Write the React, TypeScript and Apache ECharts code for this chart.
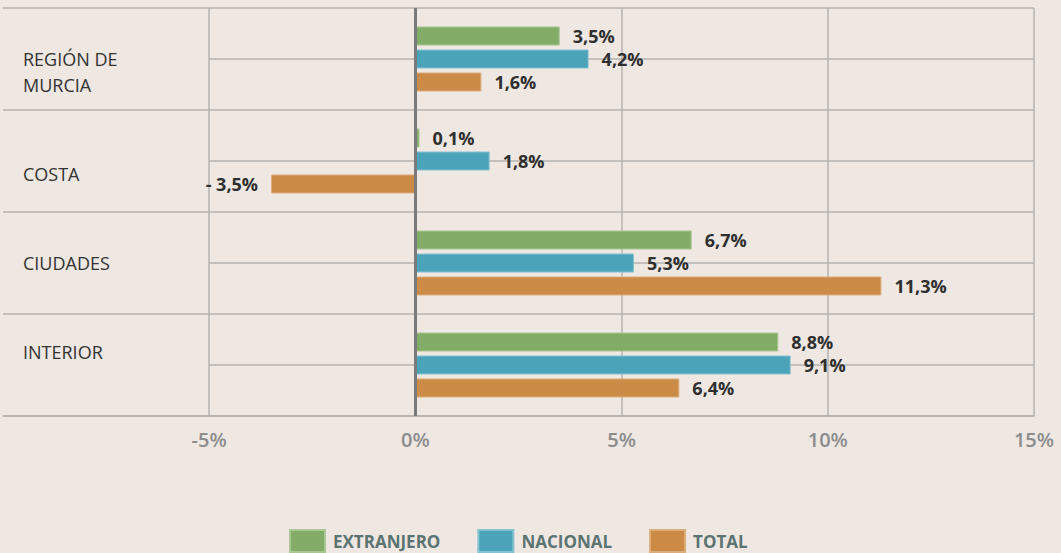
import React, { useEffect, useRef } from "react";
import * as echarts from "echarts";

const categories = ["REGIÓN DE\nMURCIA", "COSTA", "CIUDADES", "INTERIOR"];
const extranjero = [3.5, 0.1, 6.7, 8.8];
const nacional = [4.2, 1.8, 5.3, 9.1];
const total = [1.6, -3.5, 11.3, 6.4];
const seriesNames = ["EXTRANJERO", "NACIONAL", "TOTAL"];
const xTicks = [-10, -5, 0, 5, 10, 15];
// vertical nudge of each category label, in half-lines (+ = down)
const labelShift = [1, 1, 0, -1];

const FONT = "'Open Sans', sans-serif";
const GRID = "#b5b3b0";

const fmt = (v: number) =>
  (v < 0 ? "- " : "") + Math.abs(v).toFixed(1).replace(".", ",") + "%";

export default function App() {
  const ref = useRef<HTMLDivElement>(null);
  useEffect(() => {
    document.body.style.margin = "0";
    const chart = echarts.init(ref.current!, null, { renderer: "svg" });
    const barLabel = {
      show: true,
      position: "right",
      distance: 13,
      formatter: (p: any) => fmt(p.value),
      color: "#2f2f2f",
      fontFamily: FONT,
      fontWeight: "bold",
      fontSize: 18,
    };
    const mkData = (arr: number[]) =>
      arr.map((v) => (v < 0 ? { value: v, label: { position: "left" } } : v));
    chart.setOption({
      animation: false,
      backgroundColor: "#EEE7E2",
      grid: { left: 1, right: 27, top: 8, bottom: 137, containLabel: false },
      legend: {
        data: seriesNames,
        top: 529,
        left: 289,
        padding: 0,
        icon: "rect",
        itemWidth: 35,
        itemHeight: 22,
        itemGap: 37,
        textStyle: {
          color: "#5B7472",
          fontFamily: FONT,
          fontWeight: "bold",
          fontSize: 17,
          padding: [0, 0, 0, 3],
        },
      },
      xAxis: {
        type: "value",
        min: xTicks[0],
        max: xTicks[xTicks.length - 1],
        interval: 5,
        axisLine: { show: true, onZero: false, lineStyle: { color: GRID, width: 1.5 } },
        axisTick: { show: false },
        axisLabel: {
          margin: 13,
          color: "#8c8c8c",
          fontFamily: FONT,
          fontWeight: 600,
          fontSize: 20,
          formatter: (v: number) => (v === xTicks[0] ? "" : v + "%"),
        },
        splitLine: {
          show: true,
          lineStyle: {
            color: ["rgba(0,0,0,0)", GRID, GRID, GRID, GRID, GRID],
            width: 1.5,
          },
        },
      },
      yAxis: {
        type: "category",
        inverse: true,
        data: categories,
        axisLine: { show: false },
        axisTick: { show: false },
        axisLabel: {
          inside: true,
          margin: 20,
          color: "#333333",
          fontFamily: FONT,
          fontSize: 18,
          lineHeight: 26,
          align: "left",
          formatter: (v: string, i: number) => {
            const s = labelShift[i] || 0;
            return s > 0 ? "\n" + v : s < 0 ? v + "\n" : v;
          },
        },
        splitLine: { show: true, interval: 0, lineStyle: { color: GRID, width: 1.5 } },
      },
      series: [
        {
          name: seriesNames[0],
          type: "bar",
          data: mkData(extranjero),
          barWidth: 19,
          barGap: "21%",
          itemStyle: { color: "#84AC69", borderColor: "#a9c693", borderWidth: 1 },
          label: barLabel,
        },
        {
          name: seriesNames[1],
          type: "bar",
          data: mkData(nacional),
          barWidth: 19,
          barGap: "21%",
          itemStyle: { color: "#4AA3B8", borderColor: "#86c3d1", borderWidth: 1 },
          label: barLabel,
        },
        {
          name: seriesNames[2],
          type: "bar",
          data: mkData(total),
          barWidth: 19,
          barGap: "21%",
          itemStyle: { color: "#CB8B47", borderColor: "#dcae7c", borderWidth: 1 },
          label: barLabel,
        },
        {
          name: "minorLines",
          type: "line",
          data: [],
          silent: true,
          markLine: {
            z: 1,
            silent: true,
            symbol: "none",
            label: { show: false },
            lineStyle: { color: GRID, width: 1.5, type: "solid" },
            data: categories.map((c) => [
              { coord: [xTicks[1], c] },
              { coord: [xTicks[xTicks.length - 1], c] },
            ]),
          },
        },
        {
          name: "zeroLine",
          type: "line",
          data: [],
          silent: true,
          markLine: {
            z: 5,
            silent: true,
            symbol: "none",
            label: { show: false },
            lineStyle: { color: "#7a7a7a", width: 3, type: "solid" },
            data: [{ xAxis: 0 }],
          },
        },
      ],
    });
    return () => chart.dispose();
  }, []);
  return <div ref={ref} style={{ width: 1061, height: 553 }} />;
}
